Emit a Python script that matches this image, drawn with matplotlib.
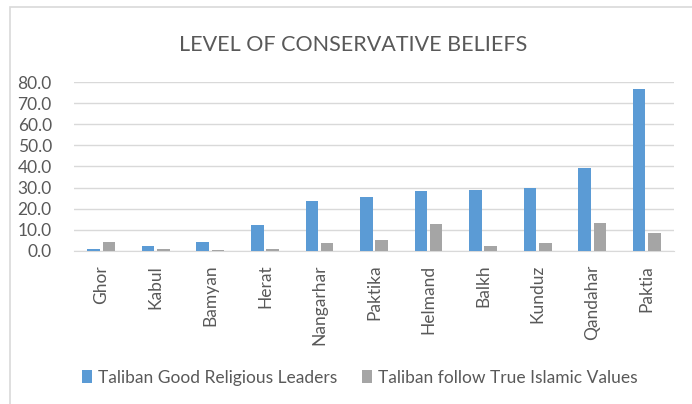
import matplotlib
matplotlib.use("Agg")
import matplotlib.pyplot as plt
import numpy as np
from matplotlib.patches import Rectangle

plt.rcParams["font.family"] = ["Lato", "DejaVu Sans"]

provinces = ["Ghor", "Kabul", "Bamyan", "Herat", "Nangarhar", "Paktika",
             "Helmand", "Balkh", "Kunduz", "Qandahar", "Paktia"]
religious_leaders = [1.0, 2.1, 4.1, 12.3, 23.4, 25.4, 28.3, 28.7, 29.7, 39.3, 76.6]
islamic_values = [4.1, 1.1, 0.6, 1.1, 3.6, 5.0, 12.8, 2.1, 3.6, 13.3, 8.5]
yticks = [0, 10, 20, 30, 40, 50, 60, 70, 80]

BLUE = "#5B9BD5"
GREY = "#A5A5A5"
TEXT = "#595959"

fig = plt.figure(figsize=(6.92, 4.04), dpi=100)
ax = fig.add_axes([0.107, 0.379, 0.867, 0.418])

# chart area border (only top and left visible in the crop)
fig.patches.append(Rectangle((10 / 692, -0.1), 1.2, 1 - 7 / 404 + 0.1,
                             transform=fig.transFigure, fill=False,
                             edgecolor="#D9D9D9", linewidth=1.2))

x = np.arange(len(provinces))
w = 0.23
ax.bar(x - 0.14, religious_leaders, w, color=BLUE,
       label="Taliban Good Religious Leaders", zorder=3)
ax.bar(x + 0.14, islamic_values, w, color=GREY,
       label="Taliban follow True Islamic Values", zorder=3)

ax.set_xlim(-0.5, len(provinces) - 0.5)
ax.set_ylim(0, 80)
ax.set_yticks(yticks)
ax.set_yticklabels([f"{v:.1f}" for v in yticks], fontsize=12.5, color=TEXT)
ax.set_xticks(x)
ax.set_xticklabels(provinces, rotation=90, fontsize=12.5, color=TEXT)
ax.tick_params(length=0)
ax.tick_params(axis="y", pad=16)
ax.tick_params(axis="x", pad=10)
ax.grid(axis="y", color="#D9D9D9", linewidth=1, zorder=0)
for side in ["top", "right", "left"]:
    ax.spines[side].set_visible(False)
ax.spines["bottom"].set_color("#D9D9D9")

fig.text(0.51, 0.888, "LEVEL OF CONSERVATIVE BELIEFS", ha="center", va="center",
         fontsize=15.5, color=TEXT)

fig.legend(loc="center", bbox_to_anchor=(0.52, 0.065), ncol=2, frameon=False,
           fontsize=12.5, labelcolor=TEXT, handlelength=0.6, handleheight=0.8,
           handletextpad=0.35, columnspacing=1.4)

fig.savefig("out.png", dpi=100)
